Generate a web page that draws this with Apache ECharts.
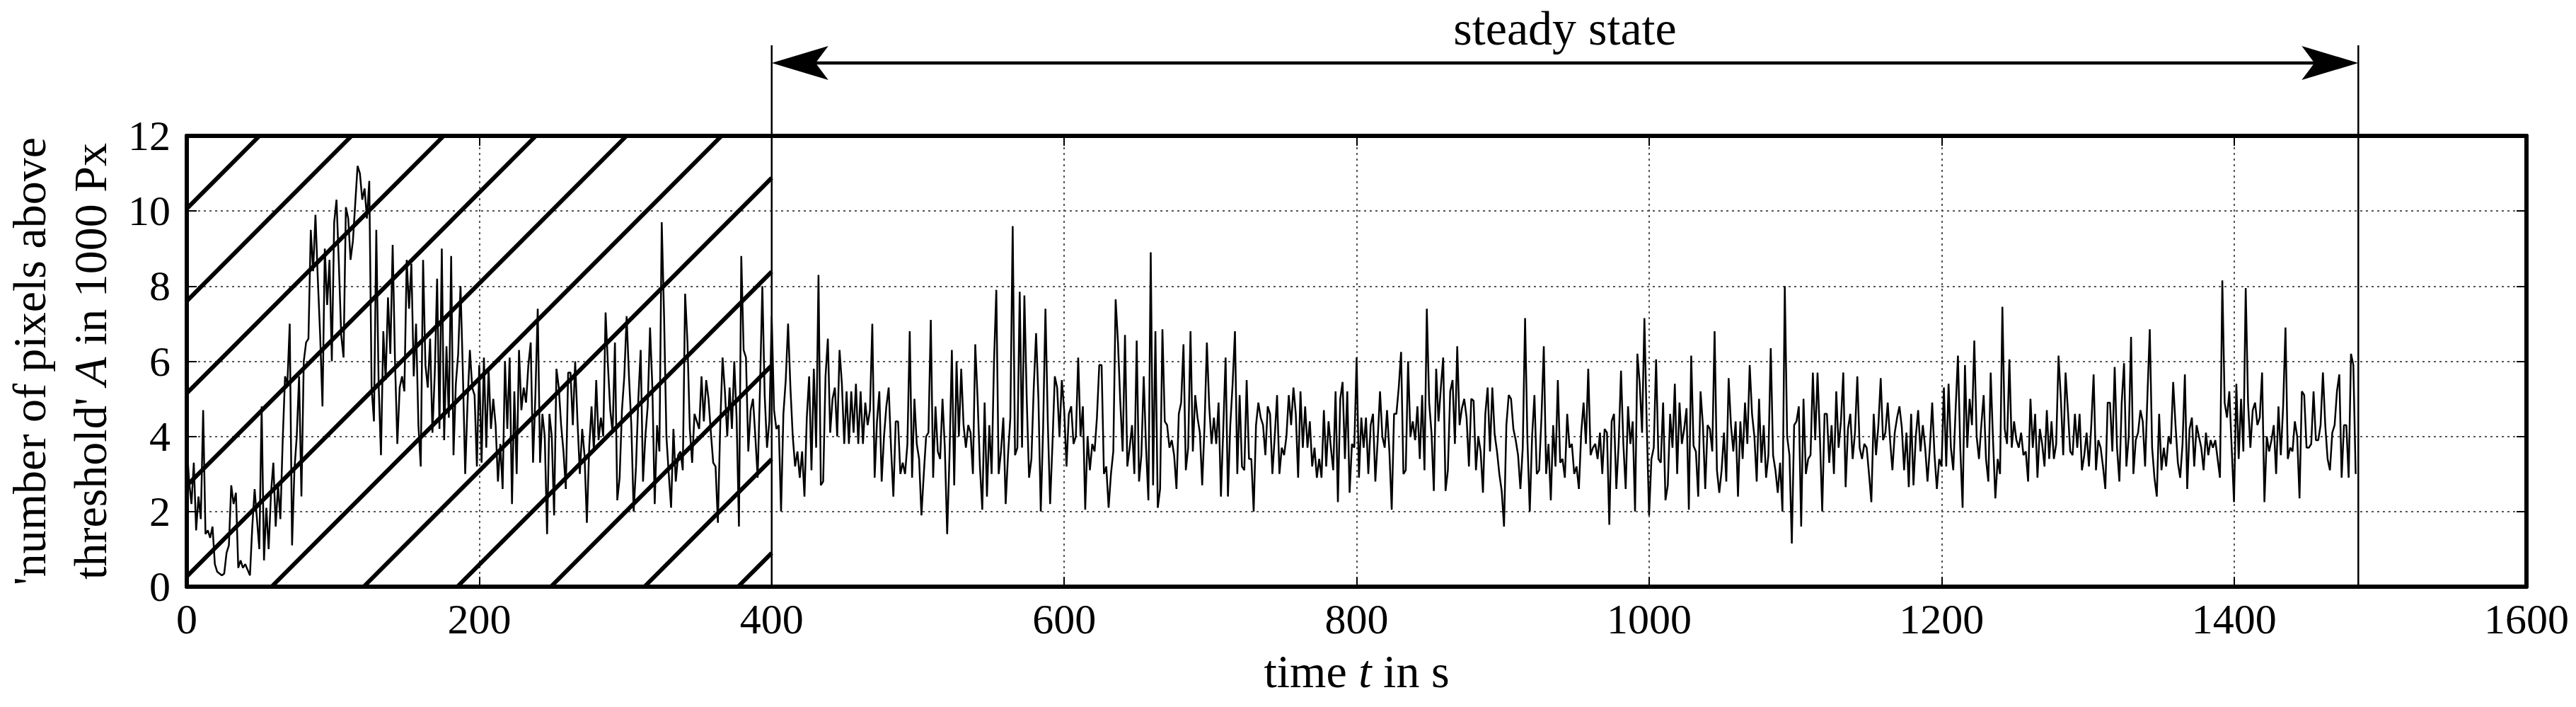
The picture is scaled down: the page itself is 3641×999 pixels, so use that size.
<!DOCTYPE html>
<html>
<head>
<meta charset="utf-8">
<script src="https://cdn.jsdelivr.net/npm/echarts@6/dist/echarts.min.js"></script>
<style>
html, body { margin: 0; padding: 0; background: #fff; }
#chart { width: 3641px; height: 999px; }
</style>
</head>
<body>
<div id="chart"></div>
<script>
// samples every 1.6 s, values in 1000 Px
const STEP_S = 1.6;

// 0 .. ~210 s (start-up)
const startUp = [
  3.8, 2.8, 2.2, 3.3, 1.5, 2.4, 1.8, 4.7, 1.4, 1.5,
  1.3, 1.6, 0.6, 0.4, 0.35, 0.3, 0.35, 0.9, 1.1, 2.7,
  2.2, 2.5, 0.5, 0.7, 0.5, 0.6, 0.45, 0.3, 1.6, 2.6,
  1.8, 1.0, 4.8, 0.7, 2.1, 1.0, 2.5, 3.3, 1.6, 2.7,
  1.8, 3.9, 5.6, 5.4, 7.0, 1.1, 3.1, 4.0, 5.6, 2.4,
  6.0, 6.5, 6.6, 9.5, 8.4, 9.9, 8.2, 6.7, 4.8, 9.0,
  7.5, 8.7, 6.0, 9.7, 10.3, 8.6, 6.7, 6.1, 10.1, 9.8,
  8.7, 9.2, 10.2, 11.2, 11.0, 10.3, 10.6, 9.8, 10.8, 5.3,
  4.4, 9.5, 5.4, 3.5, 6.8, 5.5, 7.7, 6.2, 9.1, 6.0,
  3.8, 5.3, 5.6, 5.2, 8.7, 7.4, 8.6, 5.6, 7.0, 4.3,
  3.2, 8.7, 5.9, 5.3, 6.6, 4.1, 5.7, 8.2, 4.2, 9.0,
  3.9, 6.4, 4.5, 8.8, 3.5, 5.4, 6.2, 8.0, 5.7, 3.0,
  4.9, 6.3, 5.3, 5.1, 3.2, 5.9, 3.3, 6.1, 3.7, 5.8,
  4.2
];

// ~210 .. 416 s
const settling = [
  5.0, 4.3, 2.8, 3.8, 2.6, 6.0, 4.2, 6.1, 2.2, 5.2,
  3.0, 6.3, 4.7, 5.3, 4.9, 5.9, 6.5, 3.3, 5.1, 7.4,
  3.3, 4.6, 4.0, 1.4, 4.6, 4.0, 1.9, 5.8, 5.3, 4.3,
  3.6, 2.6, 5.7, 5.7, 4.3, 6.0, 4.4, 3.0, 4.2, 3.5,
  1.7, 3.7, 4.8, 3.6, 5.5, 3.9, 4.5, 4.0, 7.3, 5.9,
  4.7, 4.1, 6.5, 2.3, 2.9, 4.7, 5.6, 7.2, 5.6, 4.3,
  2.0, 3.2, 5.0, 6.3, 2.8, 4.0, 4.8, 6.9, 5.3, 2.2,
  4.3, 3.6, 9.7, 7.2, 4.0, 3.0, 2.1, 4.2, 2.8, 3.5,
  3.6, 3.1, 7.8, 6.5, 4.2, 3.3, 4.6, 4.4, 4.2, 5.6,
  4.4, 5.5, 5.0, 4.1, 3.3, 3.2, 1.7, 4.3, 6.1, 5.2,
  4.0, 5.3, 4.2, 6.0, 4.5, 1.6, 8.8, 6.3, 6.1, 3.6,
  4.7, 5.0, 4.0, 2.9, 5.3, 8.0, 5.1, 3.7, 4.4, 7.2,
  4.7, 4.2, 4.3, 2.0, 4.6, 5.5, 7.0, 5.3, 4.0, 3.2
];

// ~418 .. 624 s
const steadyA = [
  3.6, 2.9, 3.6, 2.4, 4.5, 5.6, 3.1, 5.8, 3.7, 8.3,
  2.7, 2.8, 5.6, 6.6, 4.1, 5.0, 5.3, 4.0, 6.3, 5.4,
  3.8, 5.2, 3.8, 5.2, 4.1, 5.4, 3.8, 5.2, 3.8, 4.9,
  4.3, 4.7, 7.0, 2.9, 4.4, 5.2, 2.8, 4.0, 4.8, 5.3,
  3.7, 2.4, 4.4, 4.4, 3.0, 3.3, 3.0, 3.8, 6.8, 2.9,
  5.0, 3.8, 3.4, 1.9, 3.0, 4.0, 4.1, 7.1, 2.9, 4.8,
  3.6, 3.4, 5.0, 3.7, 1.4, 3.5, 6.3, 2.7, 6.0, 4.0,
  5.8, 4.3, 3.7, 4.3, 4.1, 3.0, 6.45, 5.0, 3.2, 2.05,
  4.9, 2.4, 4.3, 3.0, 5.95, 7.9, 3.0, 3.6, 4.5, 2.2,
  3.5, 4.5, 9.6, 3.5, 3.7, 7.85, 3.7, 7.75, 5.0, 2.9,
  3.4, 5.3, 6.75, 5.0, 2.0, 4.2, 7.4, 4.4, 2.2, 3.8,
  5.6, 5.3, 4.0, 5.5, 4.7, 3.2, 4.6, 4.8, 3.8, 4.0,
  6.1, 4.0, 4.8, 2.05, 4.0, 3.1, 3.8, 3.6, 4.5, 5.9
];

// ~626 .. 832 s
const steadyB = [
  5.9, 3.0, 3.2, 2.1, 3.0, 3.6, 7.65, 6.5, 4.9, 3.6,
  6.7, 3.2, 3.7, 4.3, 3.0, 6.55, 2.8, 3.5, 5.6, 3.7,
  2.3, 8.9, 2.7, 6.8, 2.1, 2.6, 6.85, 4.4, 4.3, 3.7,
  3.9, 3.5, 2.6, 4.6, 4.9, 6.45, 3.1, 3.7, 6.8, 3.6,
  5.1, 4.5, 4.1, 2.7, 4.3, 6.5, 4.8, 3.8, 4.5, 3.8,
  4.9, 2.4, 4.2, 6.1, 2.4, 4.3, 5.4, 6.8, 3.0, 5.1,
  3.2, 3.1, 5.5, 3.4, 3.4, 2.0, 4.3, 4.9, 4.5, 4.3,
  3.5, 4.8, 4.6, 3.0, 4.0, 5.1, 3.0, 3.7, 3.5, 4.0,
  5.1, 4.3, 5.3, 4.6, 2.9, 5.2, 3.7, 4.8, 3.7, 4.4,
  3.2, 3.7, 2.9, 3.4, 2.9, 4.7, 3.2, 4.4, 3.7, 3.1,
  5.2, 2.25, 5.0, 5.45, 3.4, 5.2, 2.5, 3.8, 3.7, 6.1,
  2.9, 4.5, 3.7, 4.5, 3.0, 4.3, 4.6, 2.8, 3.9, 5.2,
  4.0, 3.7, 4.7, 3.6, 2.05, 4.6, 4.6, 5.3, 6.25, 3.0
];

// ~834 .. 1040 s
const steadyC = [
  3.1, 6.0, 4.0, 4.4, 3.9, 4.8, 3.4, 5.1, 3.1, 7.4,
  4.9, 4.1, 2.55, 5.8, 4.4, 5.3, 6.1, 2.55, 3.1, 5.2,
  5.5, 3.8, 6.4, 4.3, 4.75, 5.0, 4.5, 3.2, 5.0, 4.95,
  3.1, 4.0, 3.6, 2.5, 4.6, 5.3, 3.6, 5.3, 4.05, 3.6,
  3.0, 2.55, 1.6, 4.3, 5.1, 5.0, 4.2, 3.9, 3.5, 2.6,
  3.7, 7.15, 3.9, 2.0, 4.0, 5.1, 3.0, 3.1, 4.5, 6.4,
  3.0, 3.8, 2.3, 4.3, 3.2, 5.5, 3.3, 3.4, 2.9, 4.6,
  3.7, 3.8, 3.0, 3.2, 2.6, 4.1, 4.9, 3.8, 5.8, 3.5,
  3.7, 3.8, 3.4, 4.1, 3.0, 4.2, 4.1, 1.65, 4.4, 4.6,
  2.6, 3.8, 5.75, 3.8, 2.6, 4.8, 3.8, 4.4, 2.0, 6.2,
  5.4, 4.1, 7.15, 4.3, 1.9, 3.4, 3.7, 6.05, 3.4, 3.3,
  4.9, 2.3, 2.7, 4.6, 3.7, 5.4, 3.0, 4.9, 3.8, 4.2,
  4.75, 2.05, 6.15, 3.75, 3.6, 2.4, 5.2, 4.3, 2.6, 4.3
];

// ~1042 .. 1248 s
const steadyD = [
  4.2, 3.6, 6.8, 3.1, 2.5, 3.1, 4.1, 2.8, 5.55, 4.3,
  3.6, 4.4, 2.4, 4.4, 3.4, 4.9, 3.8, 5.9, 4.6, 4.0,
  2.8, 5.0, 3.3, 4.3, 2.9, 3.5, 6.35, 3.5, 3.1, 2.5,
  3.3, 2.0, 8.0, 4.0, 3.5, 1.15, 4.3, 4.4, 4.8, 1.6,
  5.0, 3.0, 3.4, 3.5, 5.7, 3.9, 5.7, 4.0, 2.0, 4.6,
  4.6, 3.3, 4.3, 3.0, 5.2, 3.7, 4.4, 5.7, 2.65, 4.2,
  4.6, 3.4, 4.1, 5.6, 3.7, 3.4, 3.8, 3.7, 3.0, 2.25,
  4.6, 3.5, 4.3, 5.55, 3.9, 4.1, 4.9, 3.9, 3.1, 4.1,
  4.5, 4.8, 4.25, 3.1, 4.1, 2.65, 4.6, 2.7, 4.0, 4.7,
  3.6, 4.3, 3.7, 2.8, 3.7, 4.9, 3.5, 2.6, 3.4, 3.2,
  5.3, 3.2, 5.4, 3.7, 3.1, 4.7, 6.15, 3.7, 2.1, 5.9,
  3.7, 5.0, 4.3, 6.55, 4.0, 3.4, 4.3, 5.1, 3.4, 2.8,
  5.7, 3.9, 2.35, 3.4, 3.0, 7.45, 4.2, 3.8, 6.05, 3.7
];

// ~1250 .. 1483 s
const steadyE = [
  4.4, 3.9, 3.7, 4.1, 3.5, 3.6, 2.8, 5.0, 3.7, 4.6,
  2.9, 4.2, 3.8, 3.2, 4.7, 3.4, 4.4, 3.4, 3.8, 6.15,
  5.0, 3.5, 5.7, 4.7, 3.6, 3.5, 4.6, 3.7, 4.6, 3.1,
  3.5, 4.1, 3.2, 4.3, 5.65, 3.1, 3.9, 3.7, 3.2, 2.6,
  4.9, 4.9, 3.6, 5.85, 3.7, 2.8, 4.9, 5.95, 3.2, 4.0,
  6.65, 3.0, 3.9, 4.1, 4.7, 4.4, 3.2, 5.1, 6.85, 3.7,
  2.9, 2.4, 4.6, 3.1, 3.7, 3.2, 4.0, 3.8, 5.45, 4.3,
  3.3, 2.9, 3.8, 5.65, 2.6, 4.2, 4.5, 3.2, 4.3, 4.0,
  3.7, 3.1, 4.1, 3.5, 3.9, 3.7, 3.9, 3.4, 2.9, 8.15,
  4.9, 4.5, 5.2, 3.7, 2.25, 5.4, 3.4, 5.0, 3.6, 7.95,
  4.9, 3.7, 4.7, 4.9, 4.3, 4.5, 5.7, 2.25, 4.0, 3.6,
  3.9, 4.3, 3.0, 4.8, 3.5, 4.8, 6.9, 3.4, 3.7, 3.6,
  4.4, 4.0, 2.35, 5.2, 5.1, 3.7, 3.7, 3.8, 5.2, 3.9,
  3.9, 4.3, 5.7, 4.3, 3.4, 3.1, 4.1, 4.3, 5.2, 5.65,
  2.9, 4.3, 4.3, 2.9, 6.2, 5.9, 3.0
];

const steadyStart = 400;   // s
const steadyEnd = 1485;    // s
const steadyLabel = 'steady state';

// hatched start-up zone: where each hatch line meets A = 0 (s), and its slope (1000 Px / s)
const hatchZero = [-258, -195, -132, -69, -7, 58, 121, 185, 249, 313, 377];
const hatchSlope = 0.039;

const FONT = 'Liberation Serif';

const pixels = [].concat(startUp, settling, steadyA, steadyB, steadyC, steadyD, steadyE);
const lineData = pixels.map((v, i) => [+(i * STEP_S).toFixed(1), v]);

// clip each hatch line to the box 0..steadyStart, 0..12
function hatchSeg(x0) {
  let sx = x0, sy = 0;
  if (x0 < 0) { sx = 0; sy = -hatchSlope * x0; }
  if (sy > 12 || sx >= steadyStart) return null;
  let ex = x0 + 12 / hatchSlope, ey = 12;
  if (ex > steadyStart) { ex = steadyStart; ey = hatchSlope * (steadyStart - x0); }
  return [[sx, sy], [ex, ey]];
}

const hatchSeries = hatchZero.map(hatchSeg).filter(s => s).map(seg => ({
  type: 'line',
  data: seg,
  showSymbol: false,
  silent: true,
  z: 3,
  lineStyle: { color: '#000', width: 6 }
}));

const frameLine = { show: true, onZero: false, lineStyle: { color: '#000', width: 6 } };
const innerTick = { show: true, inside: true, length: 14, lineStyle: { color: '#000', width: 2 } };
const dotted = { show: true, showMinLine: false, showMaxLine: false, lineStyle: { color: '#555', width: 2, type: [3, 5] } };
const plainNum = v => String(v);

const chart = echarts.init(document.getElementById('chart'), null, { renderer: 'svg' });

chart.setOption({
  animation: false,
  backgroundColor: '#fff',
  grid: { left: 264, top: 192, width: 3307, height: 637, outerBoundsMode: 'none' },
  xAxis: [
    {
      type: 'value', min: 0, max: 1600, interval: 200, position: 'bottom',
      name: 'time {i|t} in s', nameLocation: 'middle', nameGap: 86,
      nameTextStyle: { fontFamily: FONT, fontSize: 66, color: '#000',
        rich: { i: { fontFamily: FONT, fontSize: 66, fontStyle: 'italic', color: '#000' } } },
      axisLine: frameLine, axisTick: innerTick,
      axisLabel: { fontFamily: FONT, fontSize: 60, color: '#000', margin: 16, formatter: plainNum },
      splitLine: dotted
    },
    {
      type: 'value', min: 0, max: 1600, interval: 200, position: 'top',
      axisLine: frameLine, axisTick: innerTick,
      axisLabel: { show: false }, splitLine: { show: false }
    }
  ],
  yAxis: [
    {
      type: 'value', min: 0, max: 12, interval: 2, position: 'left',
      name: "'number of pixels above\nthreshold' {i|A} in 1000 Px",
      nameLocation: 'middle', nameGap: 90, nameRotate: 90,
      nameTextStyle: { fontFamily: FONT, fontSize: 66, lineHeight: 86, color: '#000',
        rich: { i: { fontFamily: FONT, fontSize: 66, lineHeight: 86, fontStyle: 'italic', color: '#000' } } },
      axisLine: frameLine, axisTick: innerTick,
      axisLabel: { fontFamily: FONT, fontSize: 60, color: '#000', margin: 23, formatter: plainNum },
      splitLine: dotted
    },
    {
      type: 'value', min: 0, max: 12, interval: 2, position: 'right',
      axisLine: frameLine, axisTick: innerTick,
      axisLabel: { show: false }, splitLine: { show: false }
    }
  ],
  series: [
    {
      type: 'line',
      data: lineData,
      showSymbol: false,
      z: 4,
      lineStyle: { color: '#000', width: 2.5 }
    }
  ].concat(hatchSeries)
});

// steady-state marker lines and arrow, placed with the x scale
const xs = chart.convertToPixel({ xAxisIndex: 0 }, steadyStart);
const xe = chart.convertToPixel({ xAxisIndex: 0 }, steadyEnd);
const yBottom = chart.convertToPixel({ yAxisIndex: 0 }, 0);
const arrowY = 89;
const headLen = 80, headHalf = 24, notch = 62;

chart.setOption({
  graphic: [
    { type: 'line', shape: { x1: xs, y1: 64, x2: xs, y2: yBottom }, style: { stroke: '#000', lineWidth: 2.5 }, z: 10 },
    { type: 'line', shape: { x1: xe, y1: 64, x2: xe, y2: yBottom }, style: { stroke: '#000', lineWidth: 2.5 }, z: 10 },
    { type: 'line', shape: { x1: xs + notch, y1: arrowY, x2: xe - notch, y2: arrowY }, style: { stroke: '#000', lineWidth: 4.5 }, z: 10 },
    { type: 'polygon', shape: { points: [[xs, arrowY], [xs + headLen, arrowY - headHalf], [xs + notch, arrowY], [xs + headLen, arrowY + headHalf]] }, style: { fill: '#000' }, z: 10 },
    { type: 'polygon', shape: { points: [[xe, arrowY], [xe - headLen, arrowY - headHalf], [xe - notch, arrowY], [xe - headLen, arrowY + headHalf]] }, style: { fill: '#000' }, z: 10 },
    { type: 'text', x: (xs + xe) / 2, y: 40, z: 10,
      style: { text: steadyLabel, fontFamily: FONT, fontSize: 68, fill: '#000', align: 'center', verticalAlign: 'middle', textAlign: 'center', textVerticalAlign: 'middle' } }
  ]
});
</script>
</body>
</html>
